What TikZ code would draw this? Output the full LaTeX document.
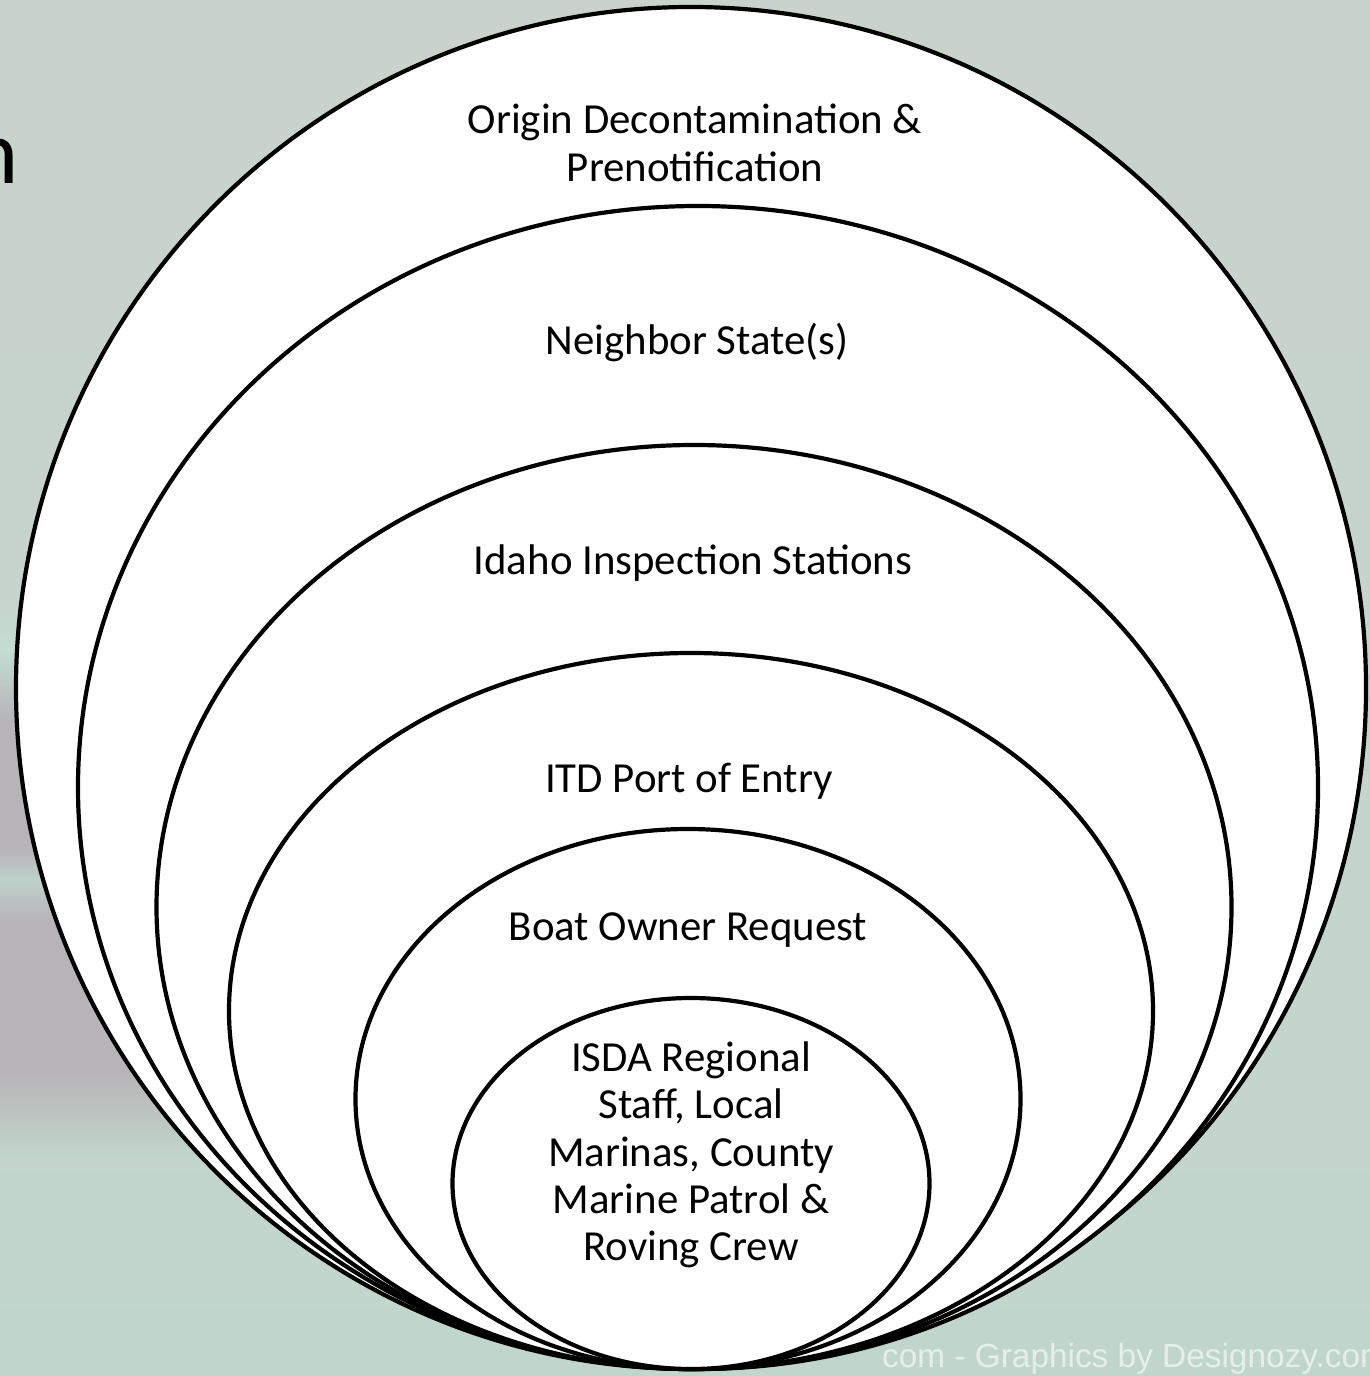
\documentclass[tikz,border=0pt]{standalone}
\usepackage{fontspec}
\setmainfont{Carlito}
\newfontfamily\wmfont{Liberation Sans}
\usetikzlibrary{shapes.geometric}
\definecolor{bgtop}{RGB}{201,211,204}
\definecolor{bgmid}{RGB}{198,212,205}
\definecolor{bgbot}{RGB}{193,214,203}
\definecolor{bandgray}{RGB}{183,180,183}
\definecolor{bandgreen}{RGB}{194,221,211}
\tikzset{
  ring/.style={ellipse, draw=black, fill=white, line width=4.2bp, inner sep=0pt},
  lbl/.style={align=center, text=black, font=\fontsize{43}{47.5}\selectfont, inner sep=0pt}
}
\begin{document}
\begin{tikzpicture}[x=1bp,y=-1bp]
\useasboundingbox (0,0) rectangle (1370,1376);
% background
\shade[top color=bgtop, bottom color=bgmid] (0,0) rectangle (1370,700);
\shade[top color=bgmid, bottom color=bgbot] (0,700) rectangle (1370,1376);
\shade[top color=bgmid, bottom color=bandgreen] (0,600) rectangle (520,650);
\shade[top color=bandgreen, bottom color=bandgray] (0,650) rectangle (520,720);
\fill[bandgray] (0,720) rectangle (520,850);
\shade[top color=bandgray, bottom color=bandgreen!70!bandgray] (0,850) rectangle (520,880);
\shade[top color=bandgreen!70!bandgray, bottom color=bandgray] (0,880) rectangle (520,920);
\fill[bandgray] (0,920) rectangle (520,1070);
\shade[top color=bandgray, bottom color=bgbot] (0,1070) rectangle (520,1160);
% partial title letter
\node[anchor=base east, inner sep=0pt, font=\fontsize{92}{100}\selectfont] (title) at (19,184) {n};
% watermark
\node[anchor=base west, inner sep=0pt, text=white, text opacity=0.6, font=\wmfont\fontsize{33.5}{36}\selectfont] (wm) at (882,1367) {com - Graphics by Designozy.com};
% rings, outermost first
\node[ring, minimum width=1350bp, minimum height=1362bp] (e1) at (691,688) {};
\node[ring, minimum width=1240bp, minimum height=1163bp] (e2) at (698,787.5) {};
\node[ring, minimum width=1075bp, minimum height=924bp] (e3) at (694,907) {};
\node[ring, minimum width=924bp, minimum height=716bp] (e4) at (691,1011) {};
\node[ring, minimum width=665bp, minimum height=540bp] (e5) at (688,1099) {};
\node[ring, minimum width=477bp, minimum height=371bp] (e6) at (691,1183.5) {};
% labels
\node[lbl] (t1) at (695,143) {Origin Decontamination \&\\Prenotification};
\node[lbl] (t2) at (697,343) {Neighbor State(s)};
\node[lbl] (t3) at (693,563) {Idaho Inspection Stations};
\node[lbl] (t4) at (689,781) {ITD Port of Entry};
\node[lbl] (t5) at (688,930) {Boat Owner Request};
\node[lbl] (t6) at (691,1155) {ISDA Regional\\Staff, Local\\Marinas, County\\Marine Patrol \&\\Roving Crew};
\end{tikzpicture}
\end{document}
